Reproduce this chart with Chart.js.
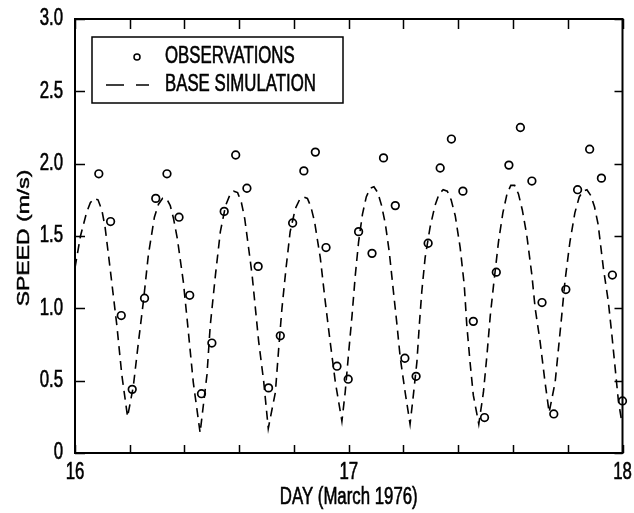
<!DOCTYPE html>
<html><head><meta charset="utf-8">
<script src="https://cdn.jsdelivr.net/npm/chart.js@4/dist/chart.umd.min.js"></script>
<style>html,body{margin:0;padding:0;background:#fff;} #wrap{width:634px;height:513px;}</style>
</head><body><div id="wrap"><canvas id="c" width="634" height="513"></canvas></div>
<script>
// ---- data ----
const seriesNames = ['OBSERVATIONS', 'BASE SIMULATION'];
const obsDay = [16.087,16.13,16.169,16.209,16.254,16.295,16.336,16.38,16.419,16.462,16.5,16.545,16.587,16.628,16.669,16.707,16.75,16.795,16.836,16.878,16.917,16.957,16.998,17.036,17.085,17.127,17.17,17.205,17.246,17.29,17.334,17.375,17.417,17.455,17.496,17.539,17.585,17.627,17.669,17.706,17.749,17.793,17.836,17.88,17.923,17.963,18.0];
const obsSpeed = [1.93,1.60,0.95,0.44,1.07,1.76,1.93,1.63,1.09,0.41,0.76,1.67,2.06,1.83,1.29,0.45,0.81,1.59,1.95,2.08,1.42,0.60,0.51,1.53,1.38,2.04,1.71,0.655,0.53,1.45,1.97,2.17,1.81,0.91,0.245,1.25,1.99,2.25,1.88,1.04,0.27,1.13,1.82,2.10,1.90,1.23,0.36];
const simDay = [16.000,16.020,16.042,16.056,16.070,16.084,16.098,16.110,16.128,16.153,16.171,16.192,16.213,16.232,16.250,16.268,16.290,16.305,16.320,16.334,16.348,16.360,16.374,16.396,16.414,16.432,16.457,16.482,16.494,16.513,16.531,16.550,16.565,16.580,16.594,16.608,16.620,16.634,16.647,16.659,16.671,16.689,16.706,16.732,16.744,16.756,16.771,16.786,16.805,16.820,16.835,16.849,16.862,16.875,16.896,16.914,16.932,16.951,16.975,16.987,16.999,17.012,17.024,17.036,17.050,17.064,17.078,17.092,17.106,17.120,17.134,17.148,17.163,17.176,17.188,17.206,17.224,17.236,17.249,17.258,17.267,17.279,17.297,17.315,17.330,17.345,17.360,17.374,17.389,17.407,17.422,17.431,17.443,17.455,17.475,17.492,17.505,17.517,17.529,17.547,17.563,17.578,17.592,17.606,17.620,17.634,17.650,17.669,17.681,17.699,17.717,17.732,17.754,17.766,17.778,17.790,17.808,17.826,17.842,17.856,17.870,17.884,17.898,17.911,17.930,17.948,17.961,17.973,17.985,17.997];
const simSpeed = [1.28,1.50,1.66,1.73,1.76,1.75,1.68,1.56,1.28,0.88,0.54,0.25,0.46,0.77,1.05,1.37,1.63,1.72,1.76,1.76,1.71,1.62,1.48,1.18,0.84,0.49,0.14,0.54,0.88,1.23,1.53,1.71,1.78,1.81,1.80,1.73,1.62,1.42,1.23,1.00,0.77,0.50,0.17,0.42,0.72,1.00,1.28,1.53,1.69,1.75,1.77,1.76,1.70,1.60,1.35,1.05,0.77,0.49,0.22,0.42,0.68,0.95,1.23,1.46,1.65,1.77,1.83,1.84,1.80,1.71,1.58,1.39,1.12,0.89,0.66,0.42,0.20,0.40,0.63,0.89,1.12,1.35,1.56,1.71,1.79,1.82,1.81,1.75,1.64,1.42,1.16,0.89,0.63,0.40,0.20,0.42,0.68,0.95,1.16,1.46,1.66,1.79,1.85,1.85,1.79,1.68,1.51,1.23,1.00,0.77,0.49,0.28,0.49,0.72,0.95,1.19,1.46,1.66,1.77,1.81,1.82,1.78,1.70,1.58,1.28,1.05,0.82,0.59,0.36,0.22];
const xTickValues = [16, 17, 18];
const xTickLabels = ['16', '17', '18'];
const xMinorTicks = [16.2,16.4,16.6,16.8,17.2,17.4,17.6,17.8];
const yTickValues = [0, 0.5, 1.0, 1.5, 2.0, 2.5, 3.0];
const yTickLabels = ['0', '0.5', '1.0', '1.5', '2.0', '2.5', '3.0'];
const xTitle = 'DAY (March 1976)';
const yTitle = 'SPEED (m/s)';

const FONT = "'Liberation Sans', Arial, Helvetica, sans-serif";
const FSIZE = 23;
const SX = 0.73;

const obsPts = obsDay.map((d, i) => ({x: d, y: obsSpeed[i]}));
const simPts = simDay.map((d, i) => ({x: d, y: simSpeed[i]}));

function drawText(ctx, text, x, y, align, rot) {
  ctx.save();
  ctx.translate(x, y);
  if (rot) { ctx.rotate(rot); ctx.scale(1, SX); } else { ctx.scale(SX, 1); }
  ctx.font = FSIZE + 'px ' + FONT;
  ctx.fillStyle = '#000';
  ctx.strokeStyle = '#000';
  ctx.lineWidth = 0.6;
  ctx.textAlign = align;
  ctx.textBaseline = 'middle';
  ctx.fillText(text, 0, 0);
  ctx.strokeText(text, 0, 0);
  ctx.restore();
}

const framePlugin = {
  id: 'frame',
  afterDraw(chart) {
    const {ctx, chartArea: a, scales: {x, y}} = chart;
    ctx.save();
    ctx.strokeStyle = '#000';
    ctx.lineWidth = 2;
    ctx.setLineDash([]);
    ctx.strokeRect(a.left, a.top, a.right - a.left, a.bottom - a.top);
    ctx.lineWidth = 1.5;
    ctx.beginPath();
    [...xTickValues, ...xMinorTicks].forEach(v => {
      const px = Math.round(x.getPixelForValue(v)) + 0.5;
      ctx.moveTo(px, a.bottom); ctx.lineTo(px, a.bottom - 8);
      ctx.moveTo(px, a.top); ctx.lineTo(px, a.top + 10);
    });
    yTickValues.forEach(v => {
      const py = Math.round(y.getPixelForValue(v)) + 0.5;
      ctx.moveTo(a.left, py); ctx.lineTo(a.left + 10, py);
      ctx.moveTo(a.right, py); ctx.lineTo(a.right - 8, py);
    });
    ctx.stroke();
    // tick labels
    xTickValues.forEach((v, i) => drawText(ctx, xTickLabels[i], x.getPixelForValue(v), a.bottom + 20, 'center'));
    yTickValues.forEach((v, i) => drawText(ctx, yTickLabels[i], a.left - 12, y.getPixelForValue(v), 'right'));
    // axis titles
    drawText(ctx, xTitle, (a.left + a.right) / 2, 498, 'center');
    drawText(ctx, yTitle, 24, (a.top + a.bottom) / 2 + 2, 'center', -Math.PI / 2);
    // legend
    const bx = 92, by = 37, bw = 251, bh = 66;
    ctx.lineWidth = 1.5;
    ctx.strokeRect(bx, by, bw, bh);
    ctx.beginPath();
    ctx.arc(137, 57, 3, 0, Math.PI * 2);
    ctx.stroke();
    ctx.setLineDash([18, 12]);
    ctx.beginPath();
    ctx.moveTo(106, 85); ctx.lineTo(149, 85);
    ctx.stroke();
    ctx.setLineDash([]);
    drawText(ctx, seriesNames[0], 165, 57, 'left');
    drawText(ctx, seriesNames[1], 165, 85, 'left');
    ctx.restore();
  }
};

new Chart(document.getElementById('c'), {
  type: 'scatter',
  data: {
    datasets: [
      {label: seriesNames[1], type: 'line', data: simPts, borderColor: '#000', borderWidth: 1.6, borderDash: [9, 6], pointRadius: 0, tension: 0, fill: false, clip: false},
      {label: seriesNames[0], data: obsPts, pointStyle: 'circle', pointRadius: 3.8, borderColor: '#000', borderWidth: 1.7, backgroundColor: 'rgba(255,255,255,0)', clip: false}
    ]
  },
  options: {
    responsive: false,
    animation: false,
    devicePixelRatio: 1,
    layout: {padding: {left: 0, right: 11.5, top: 19, bottom: 0}},
    plugins: {legend: {display: false}, tooltip: {enabled: false}},
    scales: {
      x: {
        type: 'linear', min: 16, max: 18, position: 'bottom',
        grid: {display: false, drawTicks: false}, border: {display: false},
        ticks: {display: false},
        title: {display: false},
        afterFit: s => { s.height = 60; }
      },
      y: {
        type: 'linear', min: 0, max: 3, position: 'left',
        grid: {display: false, drawTicks: false}, border: {display: false},
        ticks: {display: false},
        title: {display: false},
        afterFit: s => { s.width = 75; }
      }
    }
  },
  plugins: [framePlugin]
});
</script>
</body></html>
